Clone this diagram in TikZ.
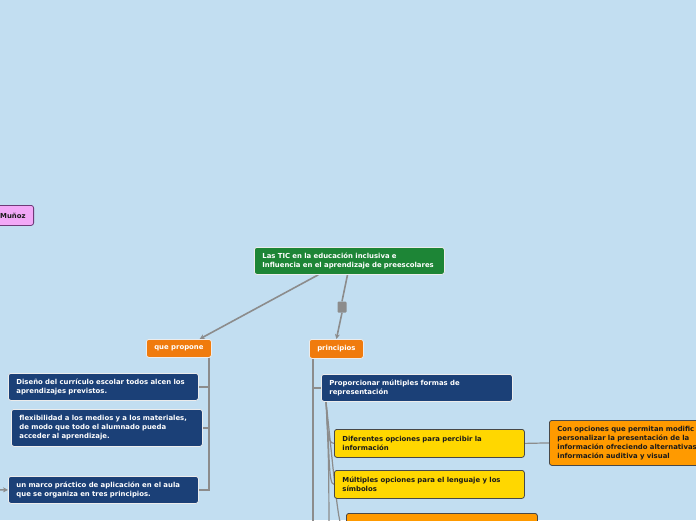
\documentclass[tikz,border=0pt]{standalone}
\usepackage{fontspec}
\setmainfont{DejaVu Sans}
\usetikzlibrary{calc,arrows.meta}
\pgfdeclarelayer{back}
\pgfdeclarelayer{bg}
\pgfsetlayers{back,bg,main}
\definecolor{bgc}{HTML}{C2DEF1}
\definecolor{greenc}{HTML}{1D8536}
\definecolor{bluec}{HTML}{1B4077}
\definecolor{orangec}{HTML}{F07B0D}
\definecolor{yellowc}{HTML}{FFD700}
\definecolor{orange2}{HTML}{FF9A00}
\definecolor{pinkc}{HTML}{F2A8F7}
\definecolor{pinkb}{HTML}{6E3A78}
\definecolor{connc}{HTML}{8C8C8C}
\definecolor{darkt}{HTML}{1A1A1A}
\begin{document}
\begin{tikzpicture}[x=1pt,y=-1pt,
  box/.style={rectangle, rounded corners=2.5pt, anchor=north west, inner xsep=8pt, inner ysep=0pt,
    align=left, font=\fontsize{6.9}{9}\selectfont\bfseries, line width=0.8pt},
  lightbox/.style={box, draw=white!85!gray, text=white},
  bluebox/.style={lightbox, fill=bluec},
  greenbox/.style={lightbox, fill=greenc},
  orangebox/.style={lightbox, fill=orangec, align=center, inner xsep=0pt},
  yellowbox/.style={box, fill=yellowc, draw=darkt!80, text=darkt},
  orbox/.style={box, fill=orange2, draw=darkt!80, text=darkt},
  pinkbox/.style={box, fill=pinkc, draw=pinkb, text=darkt, align=right},
  conn/.style={draw=connc, line width=1.6pt},
  thinconn/.style={draw=connc, line width=1.2pt},
  tip/.style={-{Stealth[length=5pt,width=5pt]}}]
\useasboundingbox (0,0) rectangle (696,520);
\begin{pgfonlayer}{back}
\fill[bgc] (0,0) rectangle (696,520);
\end{pgfonlayer}

% nodes
\node[greenbox, minimum width=190, minimum height=27, text width=174] (main) at (254,247)
  {Las TIC en la educación inclusiva e\\Influencia en el aprendizaje de preescolares};
\node[orangebox, minimum width=65, minimum height=18] (que) at (146,339) {que propone};
\node[orangebox, minimum width=54, minimum height=19] (pr) at (309,339) {principios};
\node[rectangle, fill=connc, rounded corners=1pt, minimum width=9, minimum height=11, inner sep=0pt] (sq) at (342,307) {};

\node[pinkbox, anchor=north east, minimum width=90, minimum height=20, text width=74] (mu) at (34,205) {Muñoz};

\node[bluebox, minimum width=190, minimum height=27, text width=174] (b1) at (8,373)
  {Diseño del currículo escolar todos alcen los\\aprendizajes previstos.};
\node[bluebox, minimum width=191, minimum height=37, text width=175] (b2) at (11,409)
  {flexibilidad a los medios y a los materiales,\\de modo que todo el alumnado pueda\\acceder al aprendizaje.};
\node[bluebox, minimum width=190, minimum height=27, text width=174] (b3) at (8,476)
  {un marco práctico de aplicación en el aula\\que se organiza en tres principios.};

\node[bluebox, minimum width=191, minimum height=27, text width=175] (prop) at (321,374)
  {Proporcionar múltiples formas de\\representación};
\node[yellowbox, minimum width=190, minimum height=28, text width=174] (y1) at (334,429)
  {Diferentes opciones para percibir la\\información};
\node[yellowbox, minimum width=190, minimum height=28, text width=174] (y2) at (334,470)
  {Múltiples opciones para el lenguaje y los\\símbolos};
\node[orbox, minimum width=191, minimum height=40, text width=175] (o2) at (346,513) {};
\node[orbox, minimum width=190, minimum height=45, text width=174] (ro) at (549,420)
  {Con opciones que permitan modific\\personalizar la presentación de la\\información ofreciendo alternativas\\información auditiva y visual};

% connectors
\begin{pgfonlayer}{bg}
\draw[conn,tip] ($(main.south west)!0.337!(main.south east)$) -- ($(que.north west)!0.815!(que.north east)$);
\draw[conn] ($(main.south west)!0.49!(main.south east)$) -- (sq.north);
\draw[conn,tip] (sq.south) -- (pr.north);

\coordinate (qv) at ($(que.south east)+(-3,0)$);
\draw[conn] (qv) |- (b1.east);
\draw[conn] (qv) |- (b2.east);
\draw[conn] (qv) |- (b3.east);
\coordinate (lin) at (-30,489.5);
\draw[conn,tip] (lin) -- (b3.west);

\coordinate (pv) at ($(pr.south west)+(4,0)$);
\coordinate (pend) at (313,560);
\draw[conn] (pv) |- (prop.west);
\draw[conn] (pv) -- (pend);

\coordinate (ps) at ($(prop.south west)+(5,0)$);
\coordinate (pfar) at (329,600);
\draw[thinconn] (ps) .. controls +(2,22) and +(-8,0) .. (y1.west);
\draw[thinconn] (ps) .. controls +(4,50) and +(-6,0) .. (y2.west);
\draw[thinconn] (ps) .. controls +(10,90) and +(-8,0) .. (o2.west);
\draw[thinconn] (ps) .. controls +(3,60) .. (pfar);

\draw[thinconn] (y1.east) -- (ro.west);
\end{pgfonlayer}
\end{tikzpicture}
\end{document}
